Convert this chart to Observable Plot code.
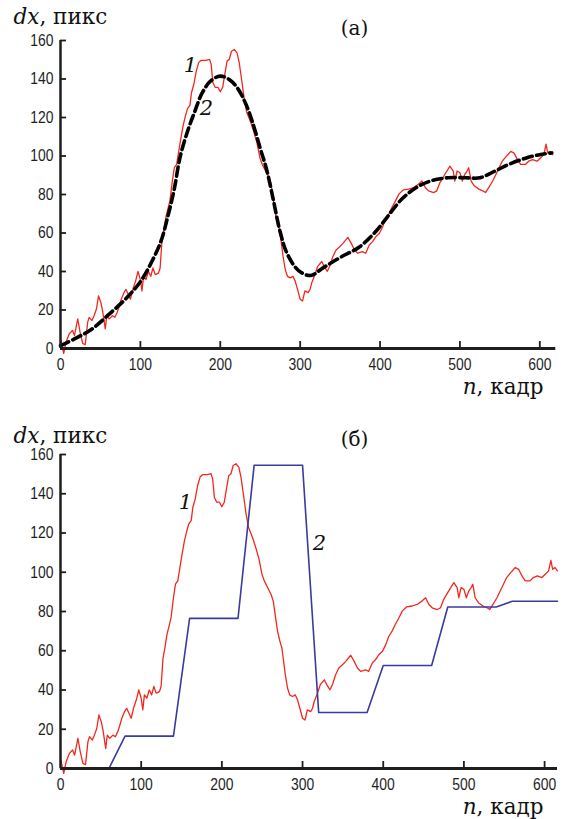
<!DOCTYPE html>
<html><head><meta charset="utf-8">
<script src="https://cdn.jsdelivr.net/npm/d3@7"></script>
<script src="https://cdn.jsdelivr.net/npm/@observablehq/plot@0.6"></script>
<style>
body{margin:0;background:#fff;}
#chart svg{display:block;}
</style></head><body><div id="chart"></div>
<script>
// measured trajectory dx(n) (curve 1), shared by both panels
const redN = [0,4,7,11,15,17.5,21.6,24.5,27.8,31,34,36,39.4,42,45,47.6,50.5,53,56,58,61,65,68,71,73,76,79.4,82,85,87.6,90.5,94,97,100,102,104,107,110,113,115.7,118.6,122.7,124.7,127,129,132,134,137,140,142.5,145.4,148,150.7,153.6,156.5,159,162,164,167,170,173,176,182,186.6,188.6,190.7,193.6,197,200,203,206,208.5,211.3,214,217.5,221,223.7,226.6,230,233,238,242,246,249.7,252.6,256.7,261,263.7,266,269,272,274.4,276,278.6,281.4,284,287.6,291,293.8,296.7,300,303,306,310,312.4,314.4,317.7,322,327,330,334,337,341,345,349.5,353.6,359.7,364,368,372,378,382,386.5,390.6,394.6,399,403,407,411,415,419.5,423.6,429,436,442,448,452.5,456.6,460.7,467,471,475,481,487.5,491.6,493.6,496.5,500,503,506,509,511,514,518,523.7,528.7,532,536,541,545,549,553,558,563.7,567.8,572,576,582,586,591,596.6,600.8,605,607.8,610,613,616];
const redV = [5,-2.5,3.4,7.7,9.4,6.8,15.4,8.5,2.6,2,13.7,16.2,14.5,17,20.5,27.3,23.9,18.8,10.2,17,15.4,17,16.2,18.8,21.3,25.6,29,30.7,28,25.6,30.7,35,40,35.8,29.9,37.5,35.8,40,37.5,41.8,38.4,39.2,41.8,56,60.6,68.3,71.7,76.8,87,93.9,95.6,102.4,109.2,116,121,124.6,126.3,133,137.4,144.2,148.5,149.7,149.7,150.2,147.6,138.2,135.7,135.7,133.4,135.7,143.3,149.3,150.2,154.4,155.3,153.6,148.5,140,129.7,122.9,117.7,112.6,106.7,99,95.6,92.2,88.7,85.3,78.5,70,64.8,61.4,56.3,47.8,41,37.5,36.7,37.5,35,30.7,25.6,24.7,29.9,29,30.7,34,37.5,42.7,45.2,42.7,40.1,42.7,47.8,51.2,52.9,54.6,57.7,54.6,51.2,49.5,50.3,49.5,53.8,55.5,58,59.7,63,67.4,70,73.4,76.8,80.2,82.4,82.8,83.6,85.3,87,83.6,81.9,81,81.9,86.2,90.4,94.7,92.2,87,92.2,91.3,87,90.4,92.2,93.9,87,84.5,82.8,81.9,81,83.6,87,90.4,93.9,97.3,99.8,102.4,101.5,98.1,95.6,95.6,97.3,98.1,97.3,99,100.7,106.1,101.5,102.4,100.7];
// smooth approximation (curve 2, panel a)
const fitN = [0,20,39,61,83.5,101,115,126,134,142,150,160,168,177,188,200,212,222,232,240,250,258,266,275,284,298,313,329,351,374,396,409,427,445,463,485,507,525,543,561,583,601,615];
const fitV = [1.5,5.5,10,17.9,26.6,35.3,45.7,56,68,82,100,114,123,132.5,139,141.5,139.5,135,127,118,104,93,78,60.5,49,40.5,37.9,42,47.5,52.7,61.4,68.3,77.5,83.5,87,88.7,88.7,88.7,92,95.6,99,100.8,101.6];
// piecewise estimate (curve 2, panel б)
const stepN = [0,60,80,140,160,220,240,300,320,380,400,460,480,540,560,616];
const stepV = [0,0,16.5,16.5,76.5,76.5,154.5,154.5,28.5,28.5,52.5,52.5,82.3,82.3,85.2,85.2];

const xTicks = [0,100,200,300,400,500,600];
const yTicks = [0,20,40,60,80,100,120,140,160];
const yLabel = "dx, пикс";
const xLabel = "n, кадр";
const panelLetters = ["(а)", "(б)"];
const labelsA = [{n:162.7, v:147, t:"1"}, {n:182.7, v:124.9, t:"2"}];
const labelsB = [{n:155, v:135.8, t:"1"}, {n:321, v:114.6, t:"2"}];

const red = redN.map((n,i)=>({n, v:redV[i]}));
const fit = fitN.map((n,i)=>({n, v:fitV[i]}));
const step = stepN.map((n,i)=>({n, v:stepV[i]}));

const AX = "#1e1e1e";
const SANS = "Liberation Sans";
const SERIF = "DejaVu Serif";

function panel({height, marginTop, marginBottom, marginRight, xMax, marks, letter, off, labels}) {
  const marginLeft = 60;
  const fw = 562 - marginLeft - marginRight;
  const fh = height - marginTop - marginBottom;
  const svg = Plot.plot({
    width: 562, height, marginTop, marginBottom, marginLeft, marginRight,
    x: {domain: [0, xMax], axis: null},
    y: {domain: [0, 160], axis: null},
    style: {background: "white", overflow: "visible"},
    marks: [
      ...marks,
      Plot.ruleX([0], {stroke: AX, strokeWidth: 2.5}),
      Plot.ruleY([0], {stroke: AX, strokeWidth: 3.2}),
      Plot.tickX(xTicks.filter(d=>d>0), {x: d=>d, stroke: AX, strokeWidth: 1.8, insetTop: fh - 7}),
      Plot.tickY(yTicks.filter(d=>d>0), {y: d=>d, stroke: AX, strokeWidth: 1.8, insetRight: fw - 6}),
      Plot.text(xTicks, {x: d=>d, text: d=>String(d), frameAnchor: "bottom", lineAnchor: "top", dy: 9, fontSize: 17, fontFamily: SANS, fill: AX}),
      Plot.text(yTicks, {y: d=>d, text: d=>String(d), frameAnchor: "left", textAnchor: "end", lineAnchor: "middle", dx: -7, fontSize: 17, fontFamily: SANS, fill: AX}),
      Plot.text([yLabel], {frameAnchor: "top-left", textAnchor: "start", lineAnchor: "bottom", dx: 13 - marginLeft, dy: off.yl, fontSize: 21.5, fontFamily: SERIF, fill: "#111"}),
      Plot.text([xLabel], {frameAnchor: "bottom-right", textAnchor: "end", lineAnchor: "bottom", dx: 543 - (562 - marginRight), dy: 45, fontSize: 21.5, fontFamily: SERIF, fill: "#111"}),
      Plot.text([letter], {frameAnchor: "top-left", textAnchor: "middle", lineAnchor: "middle", dx: 294, dy: off.l, fontSize: 20, fontFamily: SERIF, fill: "#111"}),
      Plot.text(labels, {x: "n", y: "v", text: "t", fontSize: 21, fontStyle: "italic", fontFamily: SERIF, fill: "#111"})
    ]
  });
  const s = d3.select(svg);
  s.selectAll("text").each(function() {
    const fam = this.parentNode.getAttribute("font-family") || "";
    const tc = this.textContent;
    if (fam.includes(SANS) && /^\d+$/.test(tc)) {
      const tr = this.getAttribute("transform") || "";
      this.setAttribute("transform", tr + " scale(0.82,1)");
    }
    if (tc === yLabel || tc === xLabel) {
      const k = tc.indexOf(",");
      const first = tc.slice(0, k), rest = tc.slice(k);
      this.textContent = "";
      const sel = d3.select(this);
      sel.append("tspan").attr("font-style", "italic").text(first);
      sel.append("tspan").text(rest);
    }
  });
  return svg;
}

const svgA = panel({
  height: 410, marginTop: 40, marginBottom: 62, marginRight: 6.7, xMax: 620,
  letter: panelLetters[0], off: {yl: -17, l: -12}, labels: labelsA,
  marks: [
    Plot.line(red, {x: "n", y: "v", stroke: "#f0281e", strokeWidth: 1.3}),
    Plot.line(fit, {x: "n", y: "v", stroke: "#000", strokeWidth: 3.6, strokeDasharray: "9,4.5", curve: "catmull-rom"})
  ]
});
const svgB = panel({
  height: 409, marginTop: 44, marginBottom: 51, marginRight: 5, xMax: 616,
  letter: panelLetters[1], off: {yl: -12, l: -15}, labels: labelsB,
  marks: [
    Plot.line(red, {x: "n", y: "v", stroke: "#f0281e", strokeWidth: 1.3}),
    Plot.line(step, {x: "n", y: "v", stroke: "#3a3aa0", strokeWidth: 1.6})
  ]
});
document.getElementById("chart").append(svgA, svgB);
</script>
</body></html>
